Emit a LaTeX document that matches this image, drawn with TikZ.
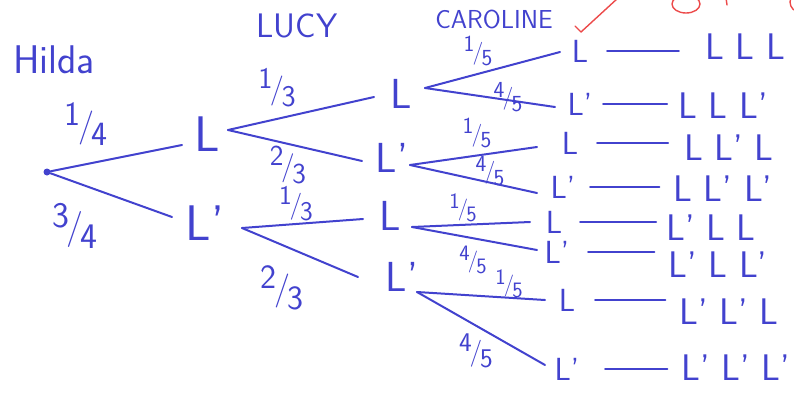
\documentclass[tikz,border=0pt]{standalone}
\usepackage{tikz}
\usetikzlibrary{positioning}
\usepackage{xcolor}
\definecolor{PenBlue}{RGB}{66,66,206}
\definecolor{PenRed} {RGB}{236,74,74}
\newcommand{\hfrac}[2]{\raisebox{0.32em}{#1}\kern-0.08em/\kern-0.08em\raisebox{-0.28em}{#2}}
\tikzset{
  hand/.style={text=PenBlue, inner sep=1pt},
  % Outcome letters of each level
  lvlA/.style={hand, font=\sffamily\fontsize{50}{52}\selectfont},
  lvlB/.style={hand, font=\sffamily\fontsize{42}{44}\selectfont},
  lvlC/.style={hand, font=\sffamily\fontsize{32}{34}\selectfont},
  outc/.style={hand, font=\sffamily\fontsize{37}{39}\selectfont},
  % Column headers and probabilities
  who/.style ={hand, font=\sffamily\fontsize{#1}{#1}\selectfont},
  who/.default=40,
  frac/.style={hand, font=\sffamily\fontsize{#1}{#1}\selectfont},
  frac/.default=32,
  root/.style={circle, fill=PenBlue, inner sep=0pt, minimum size=7pt},
  br/.style={draw=PenBlue, line width=2pt, line cap=round},
  tie/.style={draw=PenBlue, line width=2pt, line cap=round}
}

\begin{document}
\begin{tikzpicture}[x=1pt, y=-1pt]
  \useasboundingbox (0,0) rectangle (794,394);
  \clip (0,0) rectangle (794,394);

  %% ── Headers ───────────────────────────────────────────────────────────────
  \node[who]     (hilda) at (54,60)  {Hilda};
  \node[who=34]  (lucy)  at (297,26) {LUCY};
  \node[who=26]  (carol) at (494,19) {CAROLINE};

  %% ── Hilda ─────────────────────────────────────────────────────────────────
  \node[root] (r) at (47,172) {};
  \node[lvlA] (a1) at (207,134) {L};
  \node[lvlA] (a2) at (205,223) {L'};
  \draw[br] (r) -- ([shift={(-25,11)}]a1.center);
  \draw[br] (r) -- ([shift={(-33,-6)}]a2.center);
  \node[frac=34] (fa1) at (86,124) {\hfrac{1}{4}};
  \node[frac=36] (fa2) at (75,226) {\hfrac{3}{4}};

  %% ── Lucy ──────────────────────────────────────────────────────────────────
  \node[lvlB] (b1) at (401,94)  {L};
  \node[lvlB] (b2) at (392,158) {L'};
  \node[lvlB] (b3) at (390,216) {L};
  \node[lvlB] (b4) at (402,277) {L'};
  \draw[br] ([shift={(21,-4)}]a1.center) -- ([shift={(-27,3)}]b1.center);
  \draw[br] ([shift={(21,-4)}]a1.center) -- ([shift={(-30,3)}]b2.center);
  \draw[br] ([shift={(37,5)}]a2.center)  -- ([shift={(-27,3)}]b3.center);
  \draw[br] ([shift={(37,5)}]a2.center)  -- ([shift={(-44,0)}]b4.center);
  \node[frac=30] (fb1) at (277,88)  {\hfrac{1}{3}};
  \node[frac=29] (fb2) at (288,165) {\hfrac{2}{3}};
  \node[frac=27] (fb3) at (296,204) {\hfrac{1}{3}};
  \node[frac=34] (fb4) at (282,288) {\hfrac{2}{3}};

  %% ── Caroline ──────────────────────────────────────────────────────────────
  \node[lvlC] (c1) at (580,51)  {L};
  \node[lvlC] (c2) at (580,104) {L'};
  \node[lvlC] (c3) at (570,143) {L};
  \node[lvlC] (c4) at (563,187) {L'};
  \node[lvlC] (c5) at (554,222) {L};
  \node[lvlC] (c6) at (557,252) {L'};
  \node[lvlC] (c7) at (567,300) {L};
  \node[lvlC] (c8) at (567,369) {L'};
  \draw[br] ([shift={(24,-6)}]b1.center) -- ([shift={(-20,1)}]c1.center);
  \draw[br] ([shift={(24,-6)}]b1.center) -- ([shift={(-25,3)}]c2.center);
  \draw[br] ([shift={(18,7)}]b2.center)  -- ([shift={(-33,4)}]c3.center);
  \draw[br] ([shift={(18,7)}]b2.center)  -- ([shift={(-26,6)}]c4.center);
  \draw[br] ([shift={(22,11)}]b3.center) -- ([shift={(-24,0)}]c5.center);
  \draw[br] ([shift={(22,11)}]b3.center) -- ([shift={(-20,-2)}]c6.center);
  \draw[br] ([shift={(15,15)}]b4.center) -- ([shift={(-22,0)}]c7.center);
  \draw[br] ([shift={(15,15)}]b4.center) -- ([shift={(-22,-4)}]c8.center);
  \node[frac=23] (fc1) at (478,51)  {\hfrac{1}{5}};
  \node[frac=23] (fc2) at (508,97)  {\hfrac{4}{5}};
  \node[frac=23] (fc3) at (477,133) {\hfrac{1}{5}};
  \node[frac=23] (fc4) at (490,171) {\hfrac{4}{5}};
  \node[frac=22] (fc5) at (463,208) {\hfrac{1}{5}};
  \node[frac=22] (fc6) at (473,260) {\hfrac{4}{5}};
  \node[frac=22] (fc7) at (509,284) {\hfrac{1}{5}};
  \node[frac=27] (fc8) at (476,351) {\hfrac{4}{5}};

  %% ── Outcomes ──────────────────────────────────────────────────────────────
  \node[outc] (o1) at (745,47)  {L L L};
  \node[outc] (o2) at (723,106) {L L L'};
  \node[outc] (o3) at (729,148) {L L' L};
  \node[outc] (o4) at (723,189) {L L' L'};
  \node[outc] (o5) at (711,228) {L' L L};
  \node[outc] (o6) at (718,265) {L' L L'};
  \node[outc] (o7) at (729,312) {L' L' L};
  \node[outc] (o8) at (736,368) {L' L' L'};
  \foreach \i/\s/\g in {1/27/25, 2/23/10, 3/27/15, 4/27/13,
                        5/26/9,  6/31/13, 7/28/13, 8/38/13}
    \draw[tie, shorten >=\g pt] ([xshift=\s pt]c\i.center) -- (c\i.center -| o\i.west);

  %% ── Marking (red) ─────────────────────────────────────────────────────────
  \draw[draw=PenRed, line width=1.4pt, line cap=round, line join=round]
    (575,26) -- (581,32) -- (618,-2);
  \draw[draw=PenRed, line width=1.4pt] (686,4) ellipse [x radius=14, y radius=9];
  \draw[draw=PenRed, line width=1.4pt, line cap=round] (726,-2) -- (727,5);
  \draw[draw=PenRed, line width=1.4pt] (800,2) circle [radius=10];

\end{tikzpicture}
\end{document}
